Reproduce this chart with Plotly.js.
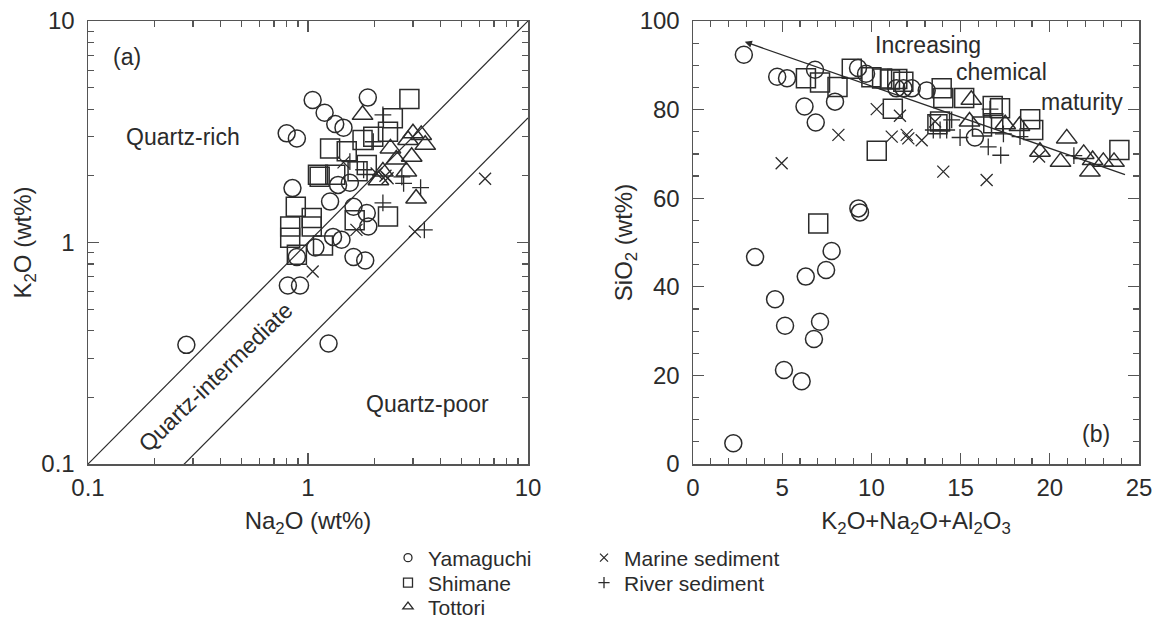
<!DOCTYPE html>
<html>
<head>
<meta charset="utf-8">
<script src="https://cdn.plot.ly/plotly-3.0.1.min.js"></script>
<style>html,body{margin:0;padding:0;background:#fff;}</style>
</head>
<body>
<div id="chart" style="width:1163px;height:620px;"></div>
<script>
// ---------- Panel (a): Na2O vs K2O (log-log) ----------
const yamA_na = [1.05,1.87,1.19,1.33,1.45,0.80,0.89,0.85,1.55,1.37,1.26,1.61,1.85,1.88,1.30,1.42,1.08,0.89,1.61,1.82,0.81,0.92,0.28,1.24];
const yamA_k  = [4.40,4.51,3.85,3.43,3.30,3.11,2.95,1.76,1.86,1.82,1.53,1.45,1.36,1.18,1.06,1.03,0.95,0.86,0.86,0.83,0.64,0.64,0.345,0.35];
const shiA_na = [2.89,2.43,2.31,1.77,1.26,1.50,1.11,1.33,1.85,0.88,1.04,0.83,1.63,2.31,0.83,0.89,1.17,1.04,1.13,1.68,1.98];
const shiA_k  = [4.45,3.64,3.16,2.90,2.66,2.58,2.02,2.02,2.24,1.45,1.29,1.18,1.26,1.31,1.05,0.88,0.97,1.18,1.98,2.10,3.00];
const totA_na = [1.77,3.00,3.27,3.41,2.85,2.37,2.52,2.96,2.19,2.80,2.09,3.10];
const totA_k  = [3.77,3.11,3.06,2.76,2.90,2.66,2.37,2.44,2.09,2.09,1.91,1.58];
const marA_na = [6.38,3.06,2.05,1.66,1.05,2.25,1.45,2.30];
const marA_k  = [1.94,1.12,2.05,1.14,0.74,2.00,2.30,1.95];
const rivA_na = [2.19,3.25,2.72,2.19,3.38,1.55,1.79,2.67,1.98];
const rivA_k  = [3.77,1.77,1.85,1.51,1.14,2.32,2.13,1.98,2.85];
// boundary lines (K2O = ratio * Na2O)
const lineNa = [0.1, 10];
const upperRatio = 1.0;
const lowerRatio = 0.365;

// ---------- Panel (b): K2O+Na2O+Al2O3 vs SiO2 ----------
const yamB_x = [2.85,4.72,5.27,6.84,9.25,9.70,11.4,11.8,12.26,13.1,6.25,7.96,6.88,15.8,9.27,9.36,3.48,7.77,7.46,6.32,4.60,5.16,7.12,6.78,5.10,6.09,2.26];
const yamB_y = [92.4,87.4,87.1,89.0,89.4,88.1,84.8,84.8,84.8,84.3,80.7,81.8,77.1,73.7,57.7,56.8,46.7,48.1,43.8,42.3,37.2,31.2,32.1,28.2,21.2,18.7,4.7];
const shiB_x = [6.33,7.12,8.10,8.90,10.0,10.6,11.04,11.45,11.79,11.2,10.3,13.94,14.03,15.2,16.8,17.21,18.9,19.07,23.9,16.83,13.7,7.02,16.2,13.85];
const shiB_y = [87.1,86.1,85.1,89.2,87.3,87.0,86.8,86.9,86.3,80.2,70.7,84.8,82.6,82.6,80.8,80.3,77.8,75.4,70.9,76.9,76.7,54.3,76.2,77.3];
const totB_x = [15.6,15.5,17.5,18.3,20.95,19.45,20.6,21.9,22.4,23.6,22.25,23.0];
const totB_y = [82.2,77.3,76.7,76.3,73.5,70.5,68.2,70.0,68.6,68.2,66.0,68.2];
const marB_x = [10.3,11.6,8.15,11.14,11.98,12.07,12.82,4.97,14.03,16.46,13.57,19.4];
const marB_y = [80.1,78.6,74.3,73.9,74.3,73.5,73.1,67.9,66.0,64.1,77.3,69.4];
const rivB_x = [16.65,14.97,16.55,17.25,18.33,17.4,13.47,13.85,14.22,21.35,14.5];
const rivB_y = [80.1,73.7,71.6,69.7,73.9,74.5,75.4,75.4,75.4,69.6,77.7];
// maturity trend arrow: tail -> head
const trendX = [24.3, 2.9];
const trendY = [65.2, 95.3];

// ---------- Legend / labels ----------
const seriesNames = ["Yamaguchi","Shimane","Tottori","Marine sediment","River sediment"];
const seriesSymbols = ["circle-open","square-open","triangle-up-open","x-thin-open","cross-thin-open"];
const seriesSizes = [17,19,18,12,12];
const legendSizes = [8,9,9,8,8];
const legendIds = ["legend","legend2","legend3","legend4","legend5"];
const tickValsA = [0.1, 1, 10];
const tickTextA = ["0.1","1","10"];

const INK = "#2b2b2b";
const FONT = "'Liberation Sans', Arial, sans-serif";

const dataA = [[yamA_na,yamA_k],[shiA_na,shiA_k],[totA_na,totA_k],[marA_na,marA_k],[rivA_na,rivA_k]];
const dataB = [[yamB_x,yamB_y],[shiB_x,shiB_y],[totB_x,totB_y],[marB_x,marB_y],[rivB_x,rivB_y]];

const traces = [];
traces.push({x: lineNa, y: lineNa.map(v => v*upperRatio), mode:"lines", line:{color:INK,width:1.2}, xaxis:"x", yaxis:"y", showlegend:false, hoverinfo:"skip"});
traces.push({x: lineNa, y: lineNa.map(v => v*lowerRatio), mode:"lines", line:{color:INK,width:1.2}, xaxis:"x", yaxis:"y", showlegend:false, hoverinfo:"skip"});

function mk(i, xs, ys, xa, ya){
  return {x: xs, y: ys, mode:"markers", xaxis:xa, yaxis:ya, name: seriesNames[i], showlegend:false,
    marker:{symbol: seriesSymbols[i], size: seriesSizes[i], color: INK, line:{color:INK, width: (i>=3?1.3:1.5)}}};
}
dataA.forEach((d,i)=>traces.push(mk(i,d[0],d[1],"x","y")));
dataB.forEach((d,i)=>traces.push(mk(i,d[0],d[1],"x2","y2")));
seriesNames.forEach((n,i)=>{
  traces.push({x:[null], y:[null], mode:"markers", xaxis:"x2", yaxis:"y2", name:n, legend: legendIds[i], showlegend:true,
    marker:{symbol: seriesSymbols[i], size: legendSizes[i], color: INK, line:{color:INK, width:1.3}}});
});

const minorA = [];
[0.1, 1].forEach(dec => { for (let m = 2; m <= 9; m++) minorA.push(+(dec*m).toFixed(2)); });

const TFS = 24;
const axCommon = {
  showline:true, linecolor:"#555", linewidth:1.5, mirror:"ticks", ticks:"inside",
  tickcolor:"#555", tickwidth:1.3, ticklen:11, showgrid:false, zeroline:false,
  tickfont:{family:FONT, size:TFS, color:INK}
};
const minorStyle = {ticks:"inside", ticklen:6, tickcolor:"#555", tickwidth:1.2};

// legend row placement (pixels -> paper)
const PLOT_BOTTOM = 464, PLOT_H = 443;
const legCols = [388, 388, 388, 584, 584];
const legRows = [558, 583, 607, 558, 583];
function legendBox(i){
  return {x: legCols[i]/1163, y:(PLOT_BOTTOM - legRows[i])/PLOT_H, xanchor:"left", yanchor:"middle",
    bgcolor:"rgba(0,0,0,0)", borderwidth:0, font:{family:FONT, size:21, color:INK}, itemwidth:30};
}

const layout = {
  width:1163, height:620,
  margin:{l:0, r:0, t:21, b:156, autoexpand:false},
  paper_bgcolor:"#fff", plot_bgcolor:"#fff",
  font:{family:FONT, color:INK},
  xaxis: Object.assign({}, axCommon, {
    type:"log", range:[-1,1], domain:[88/1163, 528/1163], anchor:"y",
    tickmode:"array", tickvals:tickValsA, ticktext:tickTextA, ticklabelstandoff:2,
    minor:Object.assign({tickmode:"array", tickvals:minorA}, minorStyle),
    title:{text:"Na<sub>2</sub>O (wt%)", font:{family:FONT, size:24, color:INK}, standoff:12}
  }),
  yaxis: Object.assign({}, axCommon, {
    type:"log", range:[-1,1], domain:[0,1], anchor:"x",
    tickmode:"array", tickvals:tickValsA, ticktext:tickTextA, ticklabelstandoff:7,
    minor:Object.assign({tickmode:"array", tickvals:minorA}, minorStyle),
    title:{text:"K<sub>2</sub>O (wt%)", font:{family:FONT, size:24, color:INK}, standoff:3}
  }),
  xaxis2: Object.assign({}, axCommon, {
    range:[0,25], domain:[693/1163, 1139/1163], anchor:"y2",
    tickmode:"linear", tick0:0, dtick:5, ticklabelstandoff:2,
    minor:Object.assign({dtick:1}, minorStyle),
    title:{text:"K<sub>2</sub>O+Na<sub>2</sub>O+Al<sub>2</sub>O<sub>3</sub>", font:{family:FONT, size:24, color:INK}, standoff:12}
  }),
  yaxis2: Object.assign({}, axCommon, {
    range:[0,100], domain:[0,1], anchor:"x2",
    tickmode:"linear", tick0:0, dtick:20, ticklabelstandoff:7,
    minor:Object.assign({dtick:5}, minorStyle),
    title:{text:"SiO<sub>2</sub> (wt%)", font:{family:FONT, size:24, color:INK}, standoff:0}
  }),
  legend: legendBox(0), legend2: legendBox(1), legend3: legendBox(2), legend4: legendBox(3), legend5: legendBox(4),
  annotations:[
    {xref:"x", yref:"y", x:Math.log10(0.150), y:Math.log10(6.9), text:"(a)", showarrow:false, font:{size:23, color:INK}},
    {xref:"x", yref:"y", x:Math.log10(0.269), y:Math.log10(3.0), text:"Quartz-rich", showarrow:false, font:{size:23, color:INK}},
    {xref:"x", yref:"y", x:Math.log10(3.5), y:Math.log10(0.187), text:"Quartz-poor", showarrow:false, font:{size:23, color:INK}},
    {xref:"x", yref:"y", x:Math.log10(0.38), y:Math.log10(0.247), text:"Quartz-intermediate", textangle:-44, showarrow:false, font:{size:23, color:INK}},
    {xref:"x2", yref:"y2", x:22.6, y:6.8, text:"(b)", showarrow:false, font:{size:23, color:INK}},
    {xref:"x2", yref:"y2", x:13.2, y:94.6, text:"Increasing", showarrow:false, font:{size:23, color:INK}},
    {xref:"x2", yref:"y2", x:17.3, y:88.6, text:"chemical", showarrow:false, font:{size:23, color:INK}},
    {xref:"x2", yref:"y2", x:21.8, y:81.8, text:"maturity", showarrow:false, font:{size:23, color:INK}},
    {xref:"x2", yref:"y2", axref:"x2", ayref:"y2", x:trendX[1], y:trendY[1], ax:trendX[0], ay:trendY[0],
     text:"", showarrow:true, arrowhead:2, arrowsize:1.1, arrowwidth:1.3, arrowcolor:INK, standoff:0, startstandoff:0}
  ]
};

Plotly.newPlot("chart", traces, layout, {staticPlot:true, displayModeBar:false});
</script>
</body>
</html>
